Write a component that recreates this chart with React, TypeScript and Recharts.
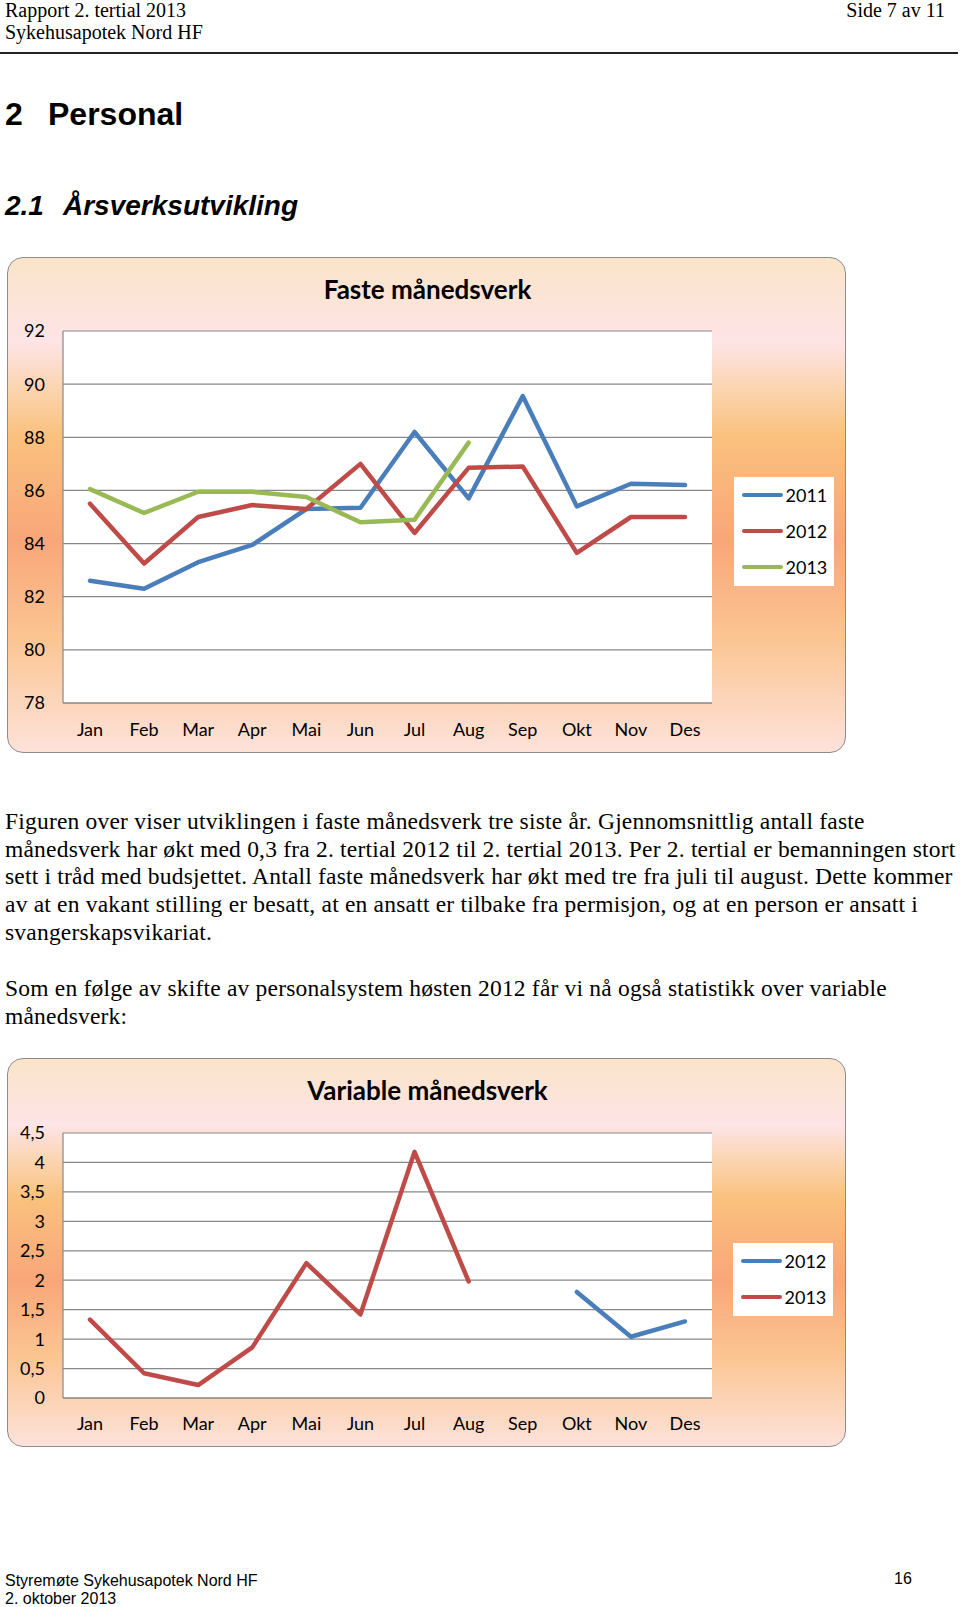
import { LineChart, Line, XAxis, YAxis, CartesianGrid, Legend } from 'recharts';

// månedsetiketter
const months = ['Jan', 'Feb', 'Mar', 'Apr', 'Mai', 'Jun', 'Jul', 'Aug', 'Sep', 'Okt', 'Nov', 'Des'];

// Faste månedsverk
const faste2011 = [82.6, 82.3, 83.3, 83.95, 85.3, 85.35, 88.2, 85.7, 89.55, 85.4, 86.25, 86.2];
const faste2012 = [85.5, 83.25, 85.0, 85.45, 85.3, 87.0, 84.4, 86.85, 86.9, 83.65, 85.0, 85.0];
const faste2013 = [86.05, 85.15, 85.95, 85.95, 85.75, 84.8, 84.9, 87.8, null, null, null, null];
const fasteTicks = [78, 80, 82, 84, 86, 88, 90, 92];

// Variable månedsverk
const variable2012 = [null, null, null, null, null, null, null, null, null, 1.8, 1.04, 1.3];
const variable2013 = [1.33, 0.42, 0.22, 0.86, 2.29, 1.42, 4.18, 1.98, null, null, null, null];
const variableTicks = [0, 0.5, 1, 1.5, 2, 2.5, 3, 3.5, 4, 4.5];

const BLUE = '#4a7ebb';
const RED = '#be4b48';
const GREEN = '#98b954';
const GRID = '#888888';
const FONT = 'Lato, "Open Sans", sans-serif';
const SERIF = '"Liberation Serif", "DejaVu Serif", serif';
const SANS = '"Liberation Sans", Arial, sans-serif';

const frameBg =
  'linear-gradient(to bottom, #fbe4c9 0%, #fde4e6 17%, #fbd3ac 27%, #fac17e 36%, #f9a679 57%, #fbc592 77%, #fde2da 100%)';

const fasteData = months.map((m, i) => ({
  month: m,
  '2011': faste2011[i],
  '2012': faste2012[i],
  '2013': faste2013[i],
}));

const variableData = months.map((m, i) => ({
  month: m,
  '2012': variable2012[i],
  '2013': variable2013[i],
}));

const tickStyle = { fill: '#000', fontSize: 18, fontFamily: FONT };
// halv kategoribredde på hver side, så punktene havner midt i hver måned
const bandPad = { left: 27, right: 27 };

function renderLegend(props: any) {
  const { payload } = props;
  return (
    <div style={{ background: '#fff', width: 100, paddingTop: 0, paddingBottom: 1 }}>
      {payload.map((entry: any) => (
        <div key={entry.value} style={{ display: 'flex', alignItems: 'center', height: 36 }}>
          <div style={{ width: 41, height: 4, background: entry.color, marginLeft: 8, borderRadius: 2 }} />
          <span style={{ fontFamily: FONT, fontSize: 18, color: '#000', marginLeft: 3 }}>{entry.value}</span>
        </div>
      ))}
    </div>
  );
}

function Frame({ top, height, title, children }: any) {
  return (
    <div
      style={{
        position: 'absolute',
        left: 7,
        top,
        width: 839,
        height,
        boxSizing: 'border-box',
        border: '1.5px solid #8c8c8c',
        borderRadius: 16,
        background: frameBg,
      }}
    >
      <div
        style={{
          position: 'absolute',
          left: 0,
          width: 839,
          top: 16,
          textAlign: 'center',
          fontFamily: FONT,
          fontWeight: 700,
          fontSize: 26,
          lineHeight: '30px',
          color: '#000',
        }}
      >
        {title}
      </div>
      <div style={{ position: 'absolute', left: -1.5, top: -1.5 }}>{children}</div>
    </div>
  );
}

function Txt({ top, left, size, family, children, style }: any) {
  return (
    <div
      style={{
        position: 'absolute',
        top: top - size / 2,
        left,
        fontSize: size,
        lineHeight: `${size}px`,
        fontFamily: family,
        whiteSpace: 'nowrap',
        color: '#000',
        ...style,
      }}
    >
      {children}
    </div>
  );
}

const para1 = [
  'Figuren over viser utviklingen i faste månedsverk tre siste år. Gjennomsnittlig antall faste',
  'månedsverk har økt med 0,3 fra 2. tertial 2012 til 2. tertial 2013. Per 2. tertial er bemanningen stort',
  'sett i tråd med budsjettet. Antall faste månedsverk har økt med tre fra juli til august. Dette kommer',
  'av at en vakant stilling er besatt, at en ansatt er tilbake fra permisjon, og at en person er ansatt i',
  'svangerskapsvikariat.',
];
const para2 = [
  'Som en følge av skifte av personalsystem høsten 2012 får vi nå også statistikk over variable',
  'månedsverk:',
];

const paraStyle = { letterSpacing: '0.2px' };

export default function App() {
  return (
    <div style={{ position: 'relative', width: 960, height: 1607, background: '#fff', overflow: 'hidden' }}>
      <style>{'body{margin:0}'}</style>

      <Txt top={10} left={5} size={20} family={SERIF}>Rapport 2. tertial 2013</Txt>
      <Txt top={32} left={5} size={20} family={SERIF}>Sykehusapotek Nord HF</Txt>
      <Txt top={10} left={0} size={20} family={SERIF} style={{ width: 945, textAlign: 'right' }}>
        Side 7 av 11
      </Txt>
      <div style={{ position: 'absolute', left: 0, top: 52, width: 958, height: 2, background: '#222' }} />

      <Txt top={114} left={5} size={32} family={SANS} style={{ fontWeight: 700 }}>2</Txt>
      <Txt top={114} left={48} size={32} family={SANS} style={{ fontWeight: 700 }}>Personal</Txt>
      <Txt top={206} left={5} size={28} family={SANS} style={{ fontWeight: 700, fontStyle: 'italic' }}>2.1</Txt>
      <Txt top={206} left={63} size={28} family={SANS} style={{ fontWeight: 700, fontStyle: 'italic' }}>
        Årsverksutvikling
      </Txt>

      <Frame top={257} height={496} title="Faste månedsverk">
        <LineChart width={839} height={496} data={fasteData} margin={{ top: 74, right: 134, bottom: 0, left: 0 }}>
          <CartesianGrid vertical={false} stroke={GRID} strokeWidth={1.2} fill="#ffffff" />
          <XAxis
            dataKey="month"
            height={50}
            padding={bandPad}
            tickLine={false}
            tickSize={0}
            tickMargin={20}
            axisLine={{ stroke: GRID, strokeWidth: 1.2 }}
            tick={tickStyle}
            interval={0}
          />
          <YAxis
            domain={[78, 92]}
            ticks={fasteTicks}
            width={56}
            tickLine={false}
            tickSize={0}
            tickMargin={18}
            axisLine={{ stroke: GRID, strokeWidth: 1.2 }}
            tick={tickStyle}
            interval={0}
          />
          <Legend
            layout="vertical"
            align="center"
            verticalAlign="middle"
            wrapperStyle={{ left: 727, top: 220, width: 100 }}
            content={renderLegend}
          />
          {[
            ['2011', BLUE],
            ['2012', RED],
            ['2013', GREEN],
          ].map(([k, c]) => (
            <Line
              key={k}
              dataKey={k}
              stroke={c}
              strokeWidth={4.5}
              strokeLinecap="round"
              strokeLinejoin="round"
              dot={false}
              activeDot={false}
              isAnimationActive={false}
            />
          ))}
        </LineChart>
      </Frame>

      {para1.map((l, i) => (
        <Txt key={i} top={821.7 + i * 27.65} left={5} size={23.5} family={SERIF} style={paraStyle}>{l}</Txt>
      ))}
      {para2.map((l, i) => (
        <Txt key={i} top={988.6 + i * 27.65} left={5} size={23.5} family={SERIF} style={paraStyle}>{l}</Txt>
      ))}

      <Frame top={1058} height={389} title="Variable månedsverk">
        <LineChart width={839} height={389} data={variableData} margin={{ top: 75, right: 134, bottom: 0, left: 0 }}>
          <CartesianGrid vertical={false} stroke={GRID} strokeWidth={1.2} fill="#ffffff" />
          <XAxis
            dataKey="month"
            height={49}
            padding={bandPad}
            tickLine={false}
            tickSize={0}
            tickMargin={19}
            axisLine={{ stroke: GRID, strokeWidth: 1.2 }}
            tick={tickStyle}
            interval={0}
          />
          <YAxis
            domain={[0, 4.5]}
            ticks={variableTicks}
            width={56}
            tickLine={false}
            tickSize={0}
            tickMargin={18}
            axisLine={{ stroke: GRID, strokeWidth: 1.2 }}
            tick={tickStyle}
            interval={0}
            tickFormatter={(v: number) => String(v).replace('.', ',')}
          />
          <Legend
            layout="vertical"
            align="center"
            verticalAlign="middle"
            wrapperStyle={{ left: 726, top: 185, width: 100 }}
            content={renderLegend}
          />
          {[
            ['2012', BLUE],
            ['2013', RED],
          ].map(([k, c]) => (
            <Line
              key={k}
              dataKey={k}
              stroke={c}
              strokeWidth={4.5}
              strokeLinecap="round"
              strokeLinejoin="round"
              dot={false}
              activeDot={false}
              isAnimationActive={false}
            />
          ))}
        </LineChart>
      </Frame>

      <Txt top={1581} left={5} size={16} family={SANS}>Styremøte Sykehusapotek Nord HF</Txt>
      <Txt top={1599} left={5} size={16} family={SANS}>2. oktober 2013</Txt>
      <Txt top={1579} left={894} size={16} family={SANS}>16</Txt>
    </div>
  );
}
